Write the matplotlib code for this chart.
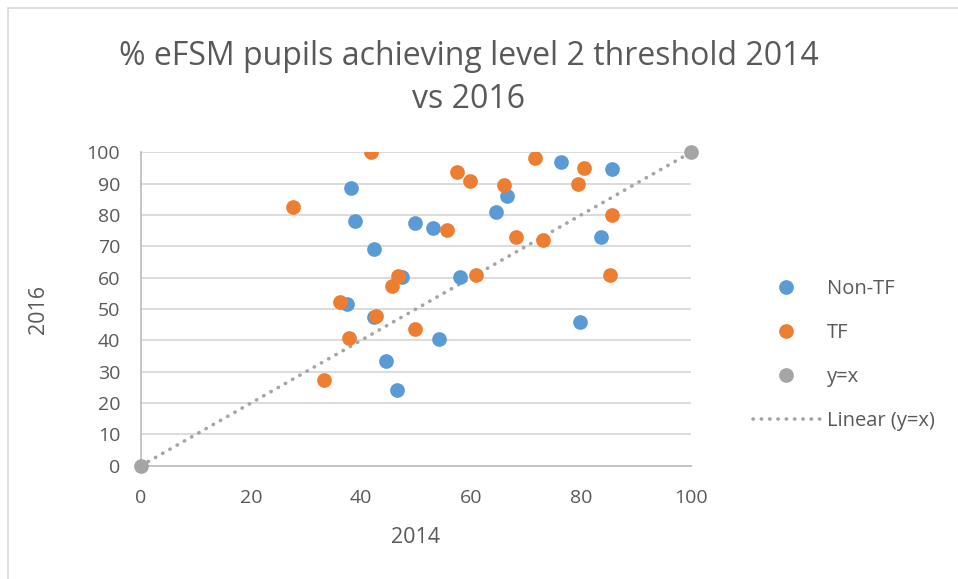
import matplotlib
matplotlib.use("Agg")
import matplotlib.pyplot as plt
from matplotlib.lines import Line2D
from matplotlib.patches import Rectangle

# values
non_tf_2014 = [38.2, 38.9, 49.8, 53.0, 42.4, 47.4, 37.5, 42.4, 64.5, 66.6,
               76.3, 85.7, 83.6, 58.0, 79.9, 54.1, 44.6, 46.6]
non_tf_2016 = [88.7, 78.0, 77.4, 76.0, 69.0, 60.2, 51.7, 47.5, 81.0, 85.9,
               97.0, 94.7, 73.0, 60.3, 45.8, 40.4, 33.5, 24.2]

tf_2014 = [41.8, 27.6, 46.8, 45.7, 36.2, 42.7, 57.5, 59.9, 66.0, 71.6, 80.6,
           79.5, 85.6, 55.6, 68.2, 73.0, 60.9, 85.3, 49.8, 37.9, 33.2]
tf_2016 = [100.1, 82.7, 60.4, 57.2, 52.1, 47.8, 93.6, 90.7, 89.5, 98.1, 95.0,
           89.8, 80.1, 75.1, 73.0, 72.1, 61.0, 60.8, 43.7, 40.9, 27.2]

yx_vals = [0, 100]

x_ticks = [0, 20, 40, 60, 80, 100]
y_ticks = list(range(0, 101, 10))

BLUE = "#5B9BD5"
ORANGE = "#ED7D31"
GREY = "#A5A5A5"
TEXT = "#595959"
GRID = "#D9D9D9"

plt.rcParams["font.family"] = ["Open Sans", "DejaVu Sans"]

fig = plt.figure(figsize=(9.58, 5.79), dpi=100)
fig.patches.append(Rectangle((8 / 958, -0.05), 1.2, 1 - 8 / 579 + 0.05,
                             transform=fig.transFigure, fill=False,
                             edgecolor=GRID, linewidth=1.2))

ax = fig.add_axes([141 / 958, 1 - 465.7 / 579, 550 / 958, 313.4 / 579])

ax.plot(yx_vals, yx_vals, linestyle=(0, (0.1, 2.2)), color=GREY,
        linewidth=2.6, dash_capstyle="round", zorder=2)
ax.scatter(non_tf_2014, non_tf_2016, s=112, color=BLUE, linewidths=0, zorder=3)
ax.scatter(tf_2014, tf_2016, s=112, color=ORANGE, linewidths=0, zorder=4)
ax.scatter(yx_vals, yx_vals, s=112, color=GREY, linewidths=0, zorder=5, clip_on=False)

ax.set_xlim(0, 100)
ax.set_ylim(0, 100)
ax.set_xticks(x_ticks)
ax.set_yticks(y_ticks)
ax.tick_params(length=0, labelsize=14, labelcolor=TEXT)
ax.tick_params(axis="y", pad=15)
ax.tick_params(axis="x", pad=17)
ax.grid(axis="y", color=GRID, linewidth=1.3)
ax.set_axisbelow(True)
for side in ["top", "right"]:
    ax.spines[side].set_visible(False)
for side in ["left", "bottom"]:
    ax.spines[side].set_color("#BFBFBF")
    ax.spines[side].set_linewidth(1.3)

ax.set_xlabel("2014", fontsize=15.5, color=TEXT, labelpad=14)
ax.set_ylabel("2016", fontsize=15.5, color=TEXT, labelpad=27)

fig.text(469 / 958, 1 - 78 / 579, "% eFSM pupils achieving level 2 threshold 2014\nvs 2016",
         ha="center", va="center", fontsize=23, color=TEXT, linespacing=1.38)

handles = [
    Line2D([], [], marker="o", linestyle="none", markersize=10.6, color=BLUE, markeredgewidth=0),
    Line2D([], [], marker="o", linestyle="none", markersize=10.6, color=ORANGE, markeredgewidth=0),
    Line2D([], [], marker="o", linestyle="none", markersize=10.6, color=GREY, markeredgewidth=0),
    Line2D([], [], linestyle=(0, (0.1, 2.2)), color=GREY, linewidth=2.6, dash_capstyle="round"),
]
labels = ["Non-TF", "TF", "y=x", "Linear (y=x)"]
fig.legend(handles, labels, loc="center left", bbox_to_anchor=(743 / 958, 1 - 355 / 579),
           frameon=False, fontsize=14.5, labelcolor=TEXT, handlelength=3.3,
           handletextpad=0.38, labelspacing=1.2, borderpad=0)

fig.savefig("out.png", dpi=100)
